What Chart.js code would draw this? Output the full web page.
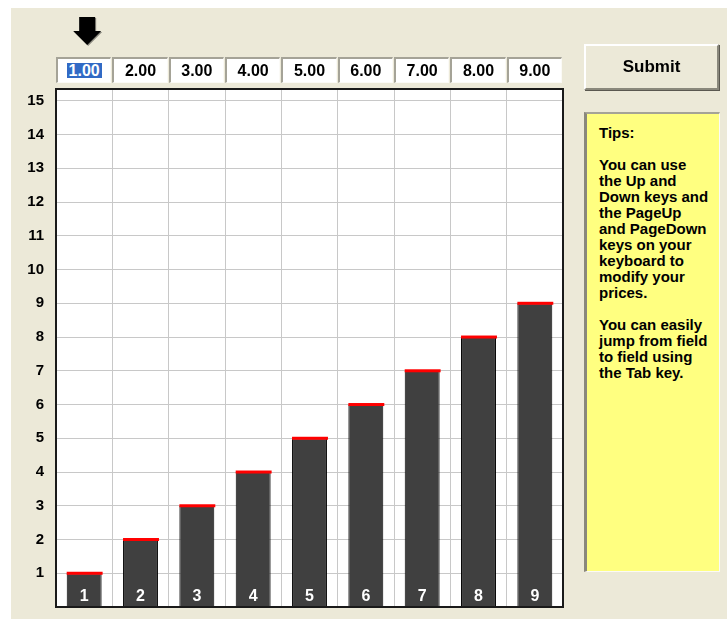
<!DOCTYPE html>
<html>
<head>
<meta charset="utf-8">
<script src="https://cdn.jsdelivr.net/npm/chart.js@4/dist/chart.umd.min.js"></script>
<style>
  html, body { margin: 0; padding: 0; background: #fff; }
  body { width: 727px; height: 619px; position: relative; overflow: hidden; font-family: "Liberation Sans", Arial, sans-serif; }
  #panel { position: absolute; left: 11px; top: 8px; right: 0; bottom: 0; background: #ece9d8; }
  #chart { position: absolute; left: 0; top: 0; }
  .price {
    position: absolute; top: 57px; height: 26px; box-sizing: border-box;
    background: #fff; color: #000;
    border-top: 2px solid #a5a397; border-left: 2px solid #a5a397;
    border-right: 1px solid #fbfaf6; border-bottom: 1px solid #fbfaf6;
    font-weight: bold; font-size: 16px; line-height: 23px; text-align: center;
  }
  .price .sel { display: inline-block; background: #316ac5; color: #fff; padding: 0 2px; line-height: 15px; }
  #submit {
    position: absolute; left: 584px; top: 44px; width: 135px; height: 46px; box-sizing: border-box;
    background: #ece9d8; color: #000;
    border-top: 2px solid #fff; border-left: 2px solid #fff;
    border-right: 2px solid #8a887c; border-bottom: 2px solid #8a887c;
    box-shadow: 1px 1px 0 #5a5850;
    font-weight: bold; font-size: 17px; line-height: 42px; text-align: center;
  }
  #tips {
    position: absolute; left: 584px; top: 112px; width: 136px; height: 460px; box-sizing: border-box;
    background: #ffff80; color: #000;
    border-top: 2px solid #a5a397; border-left: 3px solid #8a887c;
    border-right: 1px solid #fbfaf6; border-bottom: 1px solid #fbfaf6;
    padding: 11px 0 0 12px;
    font-weight: bold; font-size: 15px; line-height: 16px; white-space: nowrap;
  }
</style>
</head>
<body>
<div id="panel"></div>
<canvas id="chart" width="727" height="619"></canvas>
<div id="prices"></div>
<div id="submit">Submit</div>
<div id="tips">Tips:<br><br>You can use<br>the Up and<br>Down keys and<br>the PageUp<br>and PageDown<br>keys on your<br>keyboard to<br>modify your<br>prices.<br><br>You can easily<br>jump from field<br>to field using<br>the Tab key.</div>
<script>
// Price chart - bars with red price caps
const categories = ['1', '2', '3', '4', '5', '6', '7', '8', '9'];
const prices = [1, 2, 3, 4, 5, 6, 7, 8, 9];
const yTicks = [1, 2, 3, 4, 5, 6, 7, 8, 9, 10, 11, 12, 13, 14, 15];
const yMax = 15.35;
const selectedIndex = 0;

const FONT = '"Liberation Sans", Arial, sans-serif';

// White plot background, frame, red caps, bar numbers, arrow
const decor = {
  id: 'decor',
  beforeDraw(chart) {
    const { ctx, chartArea: a } = chart;
    ctx.save();
    ctx.fillStyle = '#ffffff';
    ctx.fillRect(a.left, a.top, a.right - a.left, a.bottom - a.top);
    ctx.restore();
  },
  afterDatasetsDraw(chart) {
    const { ctx } = chart;
    const meta = chart.getDatasetMeta(0);
    ctx.save();
    meta.data.forEach((bar, i) => {
      // red cap at the price level
      ctx.fillStyle = '#ff0000';
      ctx.fillRect(bar.x - bar.width / 2, bar.y - 1.5, bar.width + 1, 3);
      // category number near the bottom of the bar
      ctx.fillStyle = '#ffffff';
      ctx.font = 'bold 16px ' + FONT;
      ctx.textAlign = 'center';
      ctx.textBaseline = 'alphabetic';
      ctx.fillText(categories[i], bar.x, bar.base - 6);
    });
    ctx.restore();
  },
  afterDraw(chart) {
    const { ctx, chartArea: a } = chart;
    ctx.save();
    ctx.strokeStyle = '#1a1a1a';
    ctx.lineWidth = 2;
    ctx.strokeRect(a.left, a.top, a.right - a.left, a.bottom - a.top);

    // down arrow over the selected column
    const cx = chart.scales.x.getPixelForValue(selectedIndex) + 3;
    const drawArrow = (dx, dy, color) => {
      ctx.fillStyle = color;
      ctx.beginPath();
      ctx.moveTo(cx - 8 + dx, 17 + dy);
      ctx.lineTo(cx + 8 + dx, 17 + dy);
      ctx.lineTo(cx + 8 + dx, 31 + dy);
      ctx.lineTo(cx + 14 + dx, 31 + dy);
      ctx.lineTo(cx + dx, 45 + dy);
      ctx.lineTo(cx - 14 + dx, 31 + dy);
      ctx.lineTo(cx - 8 + dx, 31 + dy);
      ctx.closePath();
      ctx.fill();
    };
    drawArrow(1, 1, '#8c8a80');
    drawArrow(0, 0, '#000000');
    ctx.restore();
  }
};

const chart = new Chart(document.getElementById('chart'), {
  type: 'bar',
  data: {
    labels: categories,
    datasets: [{
      data: prices,
      backgroundColor: '#404040',
      borderColor: '#000000',
      borderWidth: 1,
      borderSkipped: false,
      barPercentage: 0.62,
      categoryPercentage: 1
    }]
  },
  options: {
    responsive: false,
    animation: false,
    events: [],
    layout: {
      padding: { left: 0, top: 89, right: 164, bottom: 12 }
    },
    plugins: {
      legend: { display: false },
      tooltip: { enabled: false }
    },
    scales: {
      x: {
        afterFit: (scale) => {
          scale.height = 0;
          scale.paddingLeft = 0;
          scale.paddingRight = 0;
        },
        grid: { color: '#c8c8c8', lineWidth: 1, drawTicks: false },
        border: { display: false },
        ticks: { display: false }
      },
      y: {
        min: 0,
        max: yMax,
        afterBuildTicks: (scale) => {
          scale.ticks = yTicks.map(v => ({ value: v }));
        },
        afterFit: (scale) => {
          scale.width = 56;
          scale.paddingTop = 0;
          scale.paddingBottom = 0;
        },
        grid: { color: '#c8c8c8', lineWidth: 1, drawTicks: false },
        border: { display: false },
        ticks: {
          color: '#000000',
          padding: 12,
          font: { family: FONT, size: 15, weight: 'bold' }
        }
      }
    }
  },
  plugins: [decor]
});

// Price fields lined up with the x-scale columns
const xs = chart.scales.x;
const colW = xs.width / categories.length;
const holder = document.getElementById('prices');
prices.forEach((p, i) => {
  const box = document.createElement('div');
  box.className = 'price';
  box.style.left = (xs.getPixelForValue(i) - colW / 2) + 'px';
  box.style.width = (colW - 1) + 'px';
  const span = document.createElement('span');
  span.textContent = p.toFixed(2);
  if (i === selectedIndex) span.className = 'sel';
  box.appendChild(span);
  holder.appendChild(box);
});
</script>
</body>
</html>
